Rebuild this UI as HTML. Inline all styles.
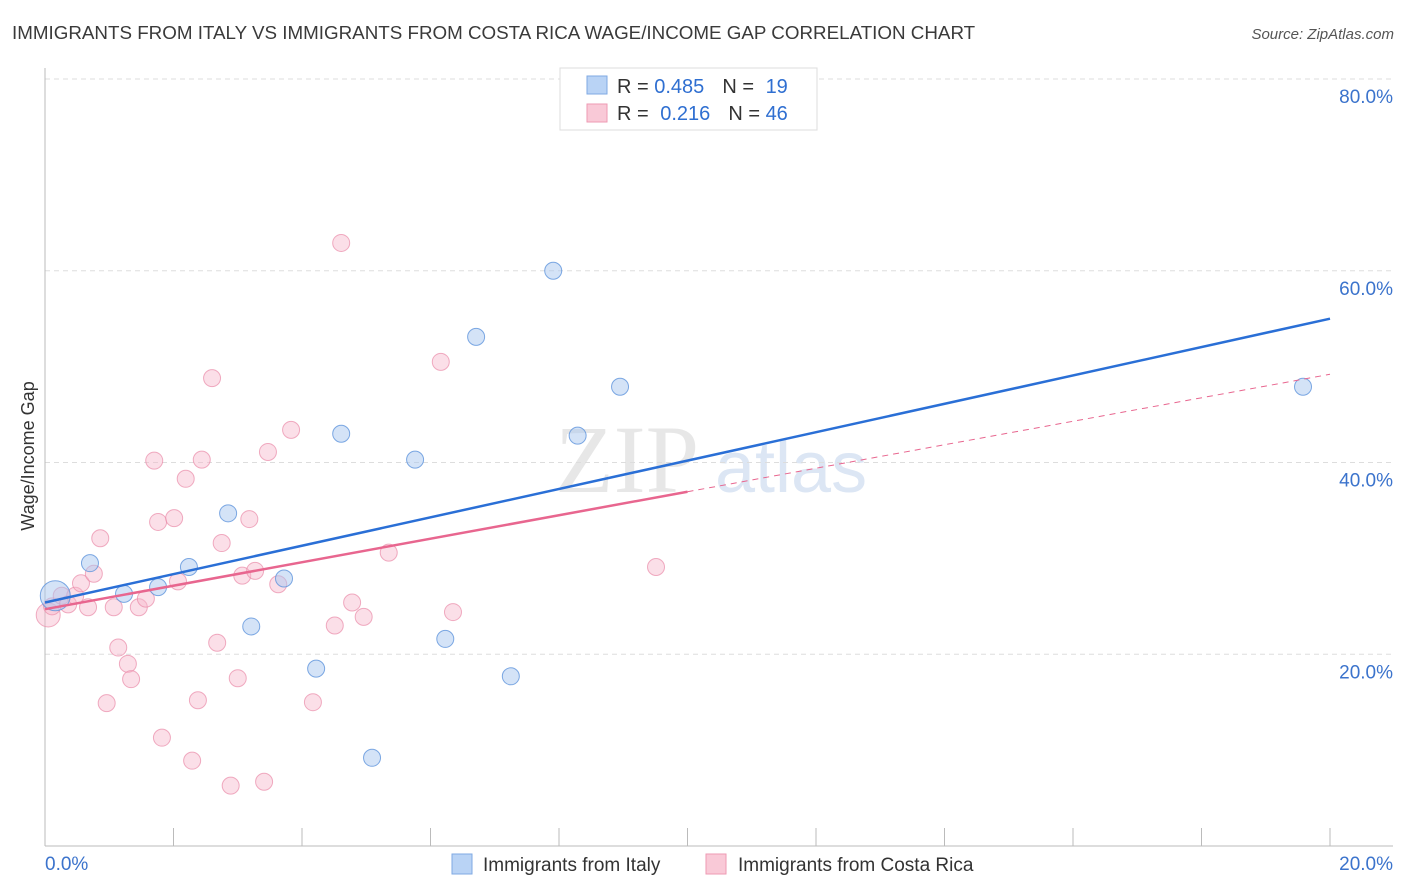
<!DOCTYPE html>
<html><head><meta charset="utf-8"><style>
body{margin:0;background:#fff;font-family:"Liberation Sans",sans-serif;}
svg{display:block}
</style></head><body>
<svg id="chart" width="1406" height="892" viewBox="0 0 1406 892" xmlns="http://www.w3.org/2000/svg">
<text x="12" y="39" font-size="18.8" fill="#3a3a3a">IMMIGRANTS FROM ITALY VS IMMIGRANTS FROM COSTA RICA WAGE/INCOME GAP CORRELATION CHART</text>
<text x="1394" y="39" font-size="15" fill="#555" font-style="italic" text-anchor="end">Source: ZipAtlas.com</text>
<g>
<text x="555" y="492" font-size="96" font-family="Liberation Serif,serif" fill="#d8d8d8" opacity="0.6">ZIP</text>
<text x="715" y="492" font-size="72" fill="#c5d6ee" opacity="0.6">atlas</text>
</g>
<g id="grid"></g>
<g id="axes"></g>
<g id="points"></g>
<g id="lines"></g>
<text transform="translate(34,456) rotate(-90)" font-size="18" fill="#333" text-anchor="middle">Wage/Income Gap</text>
<g>
<rect x="560" y="68" width="257" height="62" fill="#fff" stroke="#ddd"/>
<rect x="587" y="76" width="20" height="18" fill="#b9d3f5" stroke="#7fa9e3"/>
<text x="617" y="93" font-size="20" fill="#333">R = <tspan fill="#2f6fd1">0.485</tspan><tspan dx="18">N = </tspan><tspan fill="#2f6fd1" dx="6">19</tspan></text>
<rect x="587" y="104" width="20" height="18" fill="#f9c9d7" stroke="#ee9ab3"/>
<text x="617" y="120" font-size="20" fill="#333">R = <tspan fill="#2f6fd1" dx="6">0.216</tspan><tspan dx="18">N = </tspan><tspan fill="#2f6fd1">46</tspan></text>
</g>
<g>
<rect x="452" y="854" width="20" height="20" fill="#b9d3f5" stroke="#7fa9e3"/>
<text x="483" y="871" font-size="19" fill="#333">Immigrants from Italy</text>
<rect x="706" y="854" width="20" height="20" fill="#f9c9d7" stroke="#ee9ab3"/>
<text x="738" y="871" font-size="19" fill="#333">Immigrants from Costa Rica</text>
</g>
</svg>
<script>
const yTicks=[20,40,60,80];
const yTickLabels=["20.0%","40.0%","60.0%","80.0%"];
const xTickCount=10;
const xTickLabels=["0.0%","20.0%"];
const italyX=[0.16,0.70,1.23,1.76,2.24,2.85,3.21,3.72,4.22,4.61,5.09,5.76,6.23,6.71,7.25,7.91,8.29,8.95,19.58];
const italyY=[26.1,29.5,26.3,27.0,29.1,34.7,22.9,27.9,18.5,43.0,9.2,40.3,21.6,53.1,17.7,60.0,42.8,47.9,47.9];
const costaX=[0.05,0.11,0.26,0.36,0.47,0.56,0.67,0.76,0.86,0.96,1.07,1.14,1.29,1.34,1.46,1.57,1.70,1.76,1.82,2.01,2.07,2.19,2.29,2.38,2.44,2.60,2.68,2.75,2.89,3.00,3.07,3.18,3.27,3.41,3.47,3.63,3.83,4.17,4.51,4.61,4.78,4.96,5.35,6.16,6.35,9.51];
const costaY=[24.1,25.0,26.1,25.2,26.1,27.4,24.9,28.4,32.1,14.9,24.9,20.7,19.0,17.4,24.9,25.8,40.2,33.8,11.3,34.2,27.6,38.3,8.9,15.2,40.3,48.8,21.2,31.6,6.3,17.5,28.2,34.1,28.7,6.7,41.1,27.3,43.4,15.0,23.0,62.9,25.4,23.9,30.6,50.5,24.4,29.1];
const italyTrend=[25.4,55.0];
const costaTrend=[24.7,49.2];
const costaSolidEnd=10;
const NS="http://www.w3.org/2000/svg";
const X0=45,X1=1330,Y0=846,PXY=191.75/20;
const sx=v=>X0+(v/20)*(X1-X0);
const sy=v=>Y0-v*PXY;
function mk(tag,attrs,parent){const e=document.createElementNS(NS,tag);for(const k in attrs)e.setAttribute(k,attrs[k]);parent.appendChild(e);return e;}
const grid=document.getElementById('grid'),axes=document.getElementById('axes'),pts=document.getElementById('points'),lines=document.getElementById('lines');
yTicks.forEach((t,i)=>{
 const l=mk('line',{x1:X0,x2:1393,y1:sy(t),y2:sy(t),stroke:'#ddd','stroke-dasharray':'5,4'},grid);
 
 
 const tx=mk('text',{x:1393,y:sy(t)+24,'font-size':19,fill:'#3b73cc','text-anchor':'end'},grid);
 tx.textContent=yTickLabels[i];
 
 
});
const ax1=mk('line',{x1:X0,x2:X0,y1:68,y2:Y0,stroke:'#bbb'},axes);


const ax2=mk('line',{x1:X0,x2:1393,y1:Y0,y2:Y0,stroke:'#bbb'},axes);


for(let i=1;i<=xTickCount;i++){
 const v=i*20/xTickCount;
 const t=mk('line',{x1:sx(v),x2:sx(v),y1:828,y2:Y0,stroke:'#bbb'},axes);
 
 
}
const xl0=mk('text',{x:45,y:870,'font-size':19,fill:'#3b73cc'},axes);xl0.textContent=xTickLabels[0];


const xl1=mk('text',{x:1393,y:870,'font-size':19,fill:'#3b73cc','text-anchor':'end'},axes);xl1.textContent=xTickLabels[1];


costaX.forEach((x,i)=>{
 const c=mk('circle',{cx:sx(x),cy:sy(costaY[i]),r:i===0?12:8.5,fill:'#f6b8cb','fill-opacity':0.45,stroke:'#e98aa8','stroke-opacity':0.7},pts);
 
 
});
italyX.forEach((x,i)=>{
 const c=mk('circle',{cx:sx(x),cy:sy(italyY[i]),r:i===0?15:8.5,fill:'#a9c8f0','fill-opacity':0.5,stroke:'#5e93dc','stroke-opacity':0.8},pts);
 
 
});
const ct=v=>costaTrend[0]+(costaTrend[1]-costaTrend[0])*v/20;
const l1=mk('line',{x1:sx(0),y1:sy(italyTrend[0]),x2:sx(20),y2:sy(italyTrend[1]),stroke:'#2a6fd6','stroke-width':2.5},lines);


const l2=mk('line',{x1:sx(0),y1:sy(ct(0)),x2:sx(costaSolidEnd),y2:sy(ct(costaSolidEnd)),stroke:'#e8668f','stroke-width':2.5},lines);


const l3=mk('line',{x1:sx(costaSolidEnd),y1:sy(ct(costaSolidEnd)),x2:sx(20),y2:sy(ct(20)),stroke:'#e8668f','stroke-width':1,'stroke-dasharray':'6,5'},lines);


</script>
</body></html>
